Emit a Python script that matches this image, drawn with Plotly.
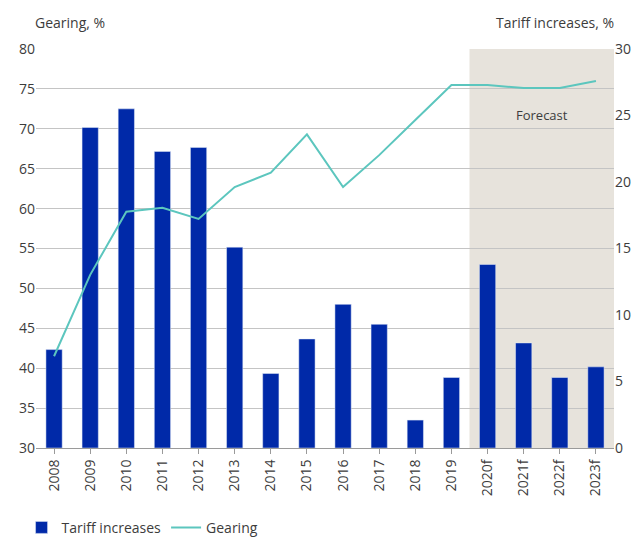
import plotly.graph_objects as go

years = ["2008", "2009", "2010", "2011", "2012", "2013", "2014", "2015",
         "2016", "2017", "2018", "2019", "2020f", "2021f", "2022f", "2023f"]
tariff = [7.4, 24.1, 25.5, 22.3, 22.6, 15.1, 5.6, 8.2,
          10.8, 9.3, 2.1, 5.3, 13.8, 7.9, 5.3, 6.1]
gearing = [41.5, 51.7, 59.6, 60.1, 58.7, 62.7, 64.5, 69.3,
           62.7, 66.7, 71.1, 75.5, 75.5, 75.1, 75.1, 76.0]

_TXT = "#3c3c3c"
_GRID = "#c4c4c4"
_FONT = dict(family="'Open Sans', sans-serif", size=14, color=_TXT)

fig = go.Figure()
fig.add_trace(go.Bar(
    x=years, y=tariff, name="Tariff increases",
    marker_color="#0029A8", width=0.45, yaxis="y",
))
fig.add_trace(go.Scatter(
    x=years, y=gearing, name="Gearing", mode="lines",
    line=dict(color="#5CC6BE", width=2), yaxis="y2",
))

# forecast shading
fig.add_shape(type="rect", xref="x", yref="paper",
              x0=11.5, x1=15.5, y0=0, y1=1,
              fillcolor="#E7E3DC", line_width=0, layer="below")
fig.add_annotation(x=13.5, y=75 - 3.3, xref="x", yref="y2",
                   text="Forecast", showarrow=False,
                   font=dict(size=13, color=_TXT))

fig.add_annotation(x=0, y=1, xref="paper", yref="paper", xanchor="left",
                   yanchor="middle", xshift=-3, yshift=27,
                   text="Gearing, %", showarrow=False,
                   font=dict(size=14, color=_TXT))
fig.add_annotation(x=1, y=1, xref="paper", yref="paper", xanchor="right",
                   yanchor="middle", xshift=2, yshift=27,
                   text="Tariff increases, %", showarrow=False,
                   font=dict(size=14, color=_TXT))

# page body adds an 8px offset, so the figure is sized to the visible area
fig.update_layout(
    width=631, height=534,
    paper_bgcolor="white", plot_bgcolor="white",
    font=_FONT,
    margin=dict(l=28, r=25, t=41, b=94, autoexpand=False),
    showlegend=True,
    legend=dict(orientation="h", x=-0.025, xanchor="left", y=-0.2,
                yanchor="middle", font=dict(size=14, color=_TXT),
                itemwidth=30, tracegroupgap=0),
    xaxis=dict(
        range=[-0.5, 15.5], tickangle=-90, showgrid=False, automargin=False,
        showline=True, linecolor="#9a9a9a", linewidth=1,
        ticks="outside", ticklen=5, tickcolor="#9a9a9a",
        tickfont=dict(size=14, color=_TXT),
    ),
    yaxis=dict(
        range=[0, 30], dtick=5, side="right", showgrid=False, automargin=False,
        zeroline=False, tickfont=dict(size=14, color=_TXT),
    ),
    yaxis2=dict(
        range=[30, 80], dtick=5, side="left", overlaying="y", automargin=False,
        showgrid=True, gridcolor=_GRID, gridwidth=1, zeroline=False,
        tickfont=dict(size=14, color=_TXT),
    ),
)

fig.write_html("out.html")
